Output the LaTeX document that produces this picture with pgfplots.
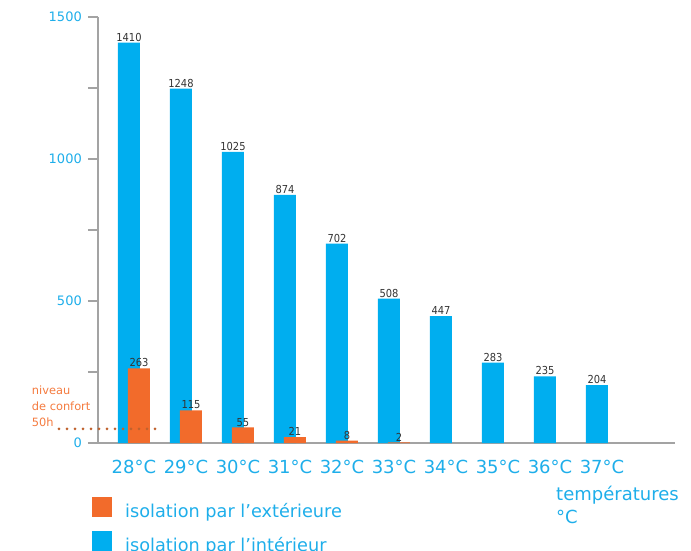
\documentclass[border=0pt]{standalone}
\usepackage{pgfplots}
\pgfplotsset{compat=1.18}
\usepackage{fontspec}
\setmainfont{DejaVu Sans}
\newfontfamily\condfont{DejaVu Sans Condensed}
\definecolor{cyanbar}{HTML}{00AEEF}
\definecolor{orangebar}{HTML}{F26B2B}
\definecolor{axisgray}{HTML}{A3A3A3}
\definecolor{labcyan}{HTML}{1EAEEA}
\definecolor{dotbrown}{HTML}{C0622E}
\definecolor{textorange}{HTML}{F47A3E}
\definecolor{valgray}{HTML}{333333}
\begin{document}
\begin{tikzpicture}[x=1pt,y=1pt]
\path[use as bounding box] (0,0) rectangle (691,550);
\begin{axis}[
  at={(98pt,107pt)}, anchor=south west,
  scale only axis, width=577pt, height=426pt,
  xmin=-0.692, xmax=10.404, ymin=0, ymax=1500,
  axis x line*=bottom, axis y line*=left,
  axis line style={-, draw=axisgray, line width=1.5pt},
  /pgf/number format/assume math mode=true,
  /pgf/number format/1000 sep={},
  xtick={0,...,9},
  xticklabels={28°C,29°C,30°C,31°C,32°C,33°C,34°C,35°C,36°C,37°C},
  major x tick style={draw=none},
  ytick={0,500,1000,1500}, minor ytick={250,750,1250},
  tick align=outside, major tick length=10pt, minor tick length=10pt,
  every tick/.style={axisgray, line width=1.3pt},
  yticklabel style={font=\fontsize{13}{13}\selectfont, text=labcyan, anchor=east, inner sep=0pt, xshift=-6pt},
  xticklabel style={font=\fontsize{18}{18}\selectfont, text=labcyan, anchor=north, inner sep=0pt, yshift=-7pt},
  ybar, bar width=22pt,
  nodes near coords,
  every node near coord/.append style={font=\condfont\fontsize{11}{11}\selectfont, text=valgray, inner sep=1pt},
  clip=false,
  legend style={at={(-0.0104,-0.1268)}, anchor=north west, draw=none, fill=none,
    font=\fontsize{17.7}{20}\selectfont, text=labcyan, row sep=12.3pt, column sep=13pt,
    inner sep=0pt, nodes={inner sep=0pt}},
  legend cell align=left,
  reverse legend,
]
\addplot[fill=cyanbar, draw=none, bar shift=-5pt,
  legend image code/.code={\fill[cyanbar] (0pt,-6pt) rectangle (20pt,14pt);}]
  coordinates {(0,1410) (1,1248) (2,1025) (3,874) (4,702) (5,508) (6,447) (7,283) (8,235) (9,204)};
\addlegendentry{isolation par l’intérieur}
\addplot[fill=orangebar, draw=none, bar shift=5pt,
  legend image code/.code={\fill[orangebar] (0pt,-6pt) rectangle (20pt,14pt);}]
  coordinates {(0,263) (1,115) (2,55) (3,21) (4,8) (5,2)};
\addlegendentry{isolation par l’extérieure}
\draw[dotbrown, line width=3pt, line cap=round, dash pattern=on 0pt off 8pt]
  (axis cs:-1.442,50) -- (axis cs:0.423,50);
\end{axis}
\node[anchor=base west, inner sep=0pt, text=textorange, font=\fontsize{11.4}{12}\selectfont] at (31.7,156) {niveau};
\node[anchor=base west, inner sep=0pt, text=textorange, font=\fontsize{11.4}{12}\selectfont] at (31.7,140) {de confort};
\node[anchor=base west, inner sep=0pt, text=textorange, font=\fontsize{11.4}{12}\selectfont] at (31.7,124) {50h};
\node[anchor=base west, inner sep=0pt, text=labcyan, font=\fontsize{18}{18}\selectfont] at (556,50) {températures};
\node[anchor=base west, inner sep=0pt, text=labcyan, font=\fontsize{18}{18}\selectfont] at (556,27) {°C};
\end{tikzpicture}
\end{document}
